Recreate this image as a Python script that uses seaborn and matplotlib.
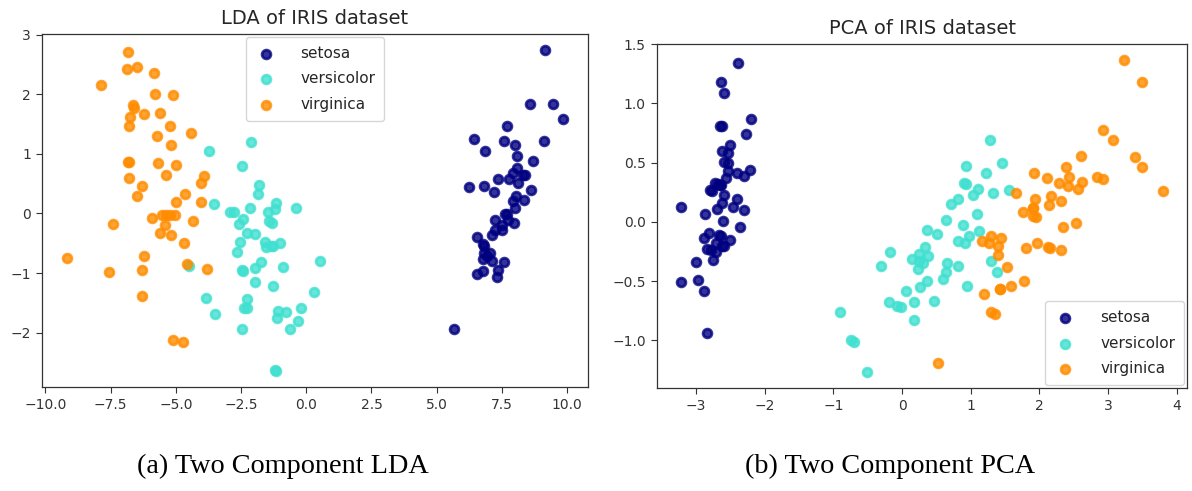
import numpy as np
import pandas as pd
import matplotlib
matplotlib.use("Agg")
import matplotlib.pyplot as plt
import seaborn as sns

# ---------------- data ----------------
species = ["setosa", "versicolor", "virginica"]
colors = ["navy", "turquoise", "darkorange"]

# Two-component LDA projection
lda_setosa_x = [8.06, 7.13, 7.49, 6.81, 8.13, 7.70, 7.21, 7.61, 6.56, 7.34, 8.40, 7.22, 7.33, 7.57, 9.85,
                9.16, 8.58, 7.78, 8.08, 8.02, 7.50, 7.59, 8.68, 6.25, 6.56, 6.77, 6.82, 7.93, 7.99, 6.83,
                6.76, 7.37, 9.13, 9.47, 7.06, 7.96, 8.61, 8.33, 6.93, 7.69, 7.92, 5.66, 7.24, 6.42, 6.86,
                6.78, 8.07, 7.13, 8.30, 7.73]
lda_setosa_y = [0.30, -0.79, -0.27, -0.67, 0.51, 1.46, 0.36, -0.01, -1.02, -0.95, 0.65, -0.11, -1.07, -0.81, 1.59,
                2.74, 1.83, 0.58, 0.97, 1.14, -0.19, 1.21, 0.88, 0.44, -0.39, -0.97, 0.46, 0.21, 0.09, -0.54,
                -0.76, 0.57, 1.22, 1.83, -0.66, -0.16, 0.40, 0.23, -0.71, -0.01, 0.68, -1.93, -0.27, 1.25, 1.05,
                -0.51, 0.76, -0.36, 0.64, -0.11]
lda_versicolor_x = [-1.46, -1.80, -2.42, -2.26, -2.55, -2.43, -2.45, -0.22, -1.75, -1.96, -1.19, -1.86, -1.16,
                    -2.67, -0.38, -1.20, -2.77, -0.78, -3.50, -1.09, -3.72, -1.00, -3.84, -2.26, -1.26, -1.44,
                    -2.46, -3.52, -2.59, 0.52, -1.11, -0.61, -0.90, -4.50, -2.93, -2.10, -2.14, -2.48, -1.33,
                    -1.96, -2.40, -2.29, -1.27, -0.30, -1.96, -1.16, -1.60, -1.54, 0.30, -1.36]
lda_versicolor_y = [0.03, 0.48, -0.09, -1.59, -0.47, -0.97, 0.80, -1.58, -0.82, -0.35, -2.63, 0.32, -2.64,
                    -0.64, 0.09, 0.08, 0.03, -1.66, -1.68, -1.63, 1.04, -0.49, -1.41, -1.43, -0.55, -0.13,
                    -0.94, 0.16, -0.17, -0.79, -1.75, -1.94, -0.90, -0.88, 0.03, 1.19, 0.09, -1.94, -0.16,
                    -1.15, -1.59, -0.33, -1.21, -1.80, -0.91, 0.17, -0.47, -0.57, -1.31, -0.54]
lda_virginica_x = [-6.85, -6.87, -6.47, -5.85, -7.87, -5.80, -5.11, -6.65, -6.59, -6.23, -5.60, -6.74, -6.80,
                   -5.23, -4.42, -5.74, -5.18, -6.83, -6.79, -5.67, -4.99, -6.80, -5.36, -3.92, -4.03, -6.29,
                   -6.49, -4.66, -4.99, -4.05, -5.93, -5.53, -5.39, -5.23, -5.02, -7.42, -4.36, -5.43, -5.62,
                   -5.17, -4.67, -9.18, -6.22, -4.56, -7.56, -6.29, -3.80, -6.29, -5.11, -4.72]
lda_virginica_y = [2.71, 2.42, 2.45, 2.35, 2.15, 2.01, 1.98, 1.82, 1.77, 1.66, 1.68, 1.61, 1.47,
                   1.46, 1.35, 1.30, 1.14, 0.86, 0.87, 0.84, 0.81, 0.60, 0.65, 0.62, 0.51, 0.46,
                   0.30, 0.33, 0.19, 0.19, -0.08, -0.02, -0.02, -0.02, -0.02, -0.17, -0.12, -0.20, -0.33,
                   -0.36, -0.49, -0.74, -0.71, -0.85, -0.98, -0.95, -0.93, -1.39, -2.12, -2.16]

# Two-component PCA projection
pca_setosa_x = [-2.68, -2.71, -2.89, -2.75, -2.73, -2.28, -2.82, -2.63, -2.89, -2.67, -2.51, -2.61, -2.79,
                -3.22, -2.64, -2.39, -2.62, -2.65, -2.20, -2.59, -2.31, -2.54, -3.22, -2.30, -2.36, -2.51,
                -2.47, -2.56, -2.64, -2.63, -2.59, -2.41, -2.65, -2.60, -2.64, -2.87, -2.63, -2.80, -2.98,
                -2.59, -2.77, -2.85, -3.00, -2.41, -2.21, -2.71, -2.54, -2.84, -2.54, -2.70]
pca_setosa_y = [0.32, -0.18, -0.14, -0.32, 0.33, 0.74, -0.09, 0.16, -0.58, -0.11, 0.65, 0.01, -0.24,
                -0.51, 1.18, 1.34, 0.81, 0.31, 0.87, 0.51, 0.39, 0.43, 0.13, 0.10, -0.04, -0.15,
                0.13, 0.37, 0.31, -0.20, -0.20, 0.41, 0.81, 1.09, -0.12, 0.07, 0.60, 0.27, -0.49,
                0.23, 0.26, -0.94, -0.34, 0.19, 0.44, -0.25, 0.50, -0.23, 0.58, 0.11]
pca_versicolor_x = [1.28, 0.93, 1.46, 0.18, 1.09, 0.64, 1.10, -0.75, 1.04, -0.01, -0.51, 0.51, 0.26,
                    0.98, -0.17, 0.93, 0.66, 0.24, 0.94, 0.05, 1.12, 0.36, 1.30, 0.92, 0.71, 0.90,
                    1.33, 1.56, 0.81, -0.31, -0.07, -0.19, 0.14, 1.38, 0.59, 0.81, 1.22, 0.82, 0.25,
                    0.17, 0.46, 0.89, 0.23, -0.70, 0.36, 0.33, 0.38, 0.64, -0.91, 0.30]
pca_versicolor_y = [0.69, 0.32, 0.50, -0.83, 0.07, -0.42, 0.28, -1.00, 0.23, -0.72, -1.27, -0.10, -0.55,
                    -0.12, -0.25, 0.47, -0.35, -0.33, -0.54, -0.58, -0.08, -0.07, -0.33, -0.18, 0.15, 0.33,
                    0.24, 0.27, -0.16, -0.37, -0.71, -0.68, -0.31, -0.42, -0.48, 0.19, 0.41, -0.37, -0.27,
                    -0.68, -0.67, -0.03, -0.40, -1.01, -0.50, -0.21, -0.29, 0.02, -0.76, -0.35]
pca_virginica_x = [2.53, 1.42, 2.62, 1.97, 2.35, 3.40, 0.52, 2.93, 2.32, 2.92, 1.66, 1.80, 2.17,
                   1.35, 1.59, 1.90, 1.95, 3.49, 3.80, 1.30, 2.43, 1.20, 3.50, 1.39, 2.28, 2.61,
                   1.26, 1.29, 2.12, 2.39, 2.84, 3.23, 2.16, 1.44, 1.78, 3.08, 2.14, 1.91, 1.17,
                   2.11, 2.31, 1.92, 1.42, 2.56, 2.42, 1.94, 1.53, 1.76, 1.90, 1.39]
pca_virginica_y = [-0.01, -0.57, 0.34, -0.18, -0.04, 0.55, -1.19, 0.36, -0.24, 0.78, 0.24, -0.22, 0.22,
                   -0.78, -0.54, 0.12, 0.04, 1.18, 0.26, -0.76, 0.38, -0.61, 0.46, -0.20, 0.33, 0.56,
                   -0.18, -0.12, -0.21, 0.46, 0.38, 1.37, -0.22, -0.14, -0.50, 0.69, 0.14, 0.05, -0.16,
                   0.37, 0.18, 0.41, -0.57, 0.28, 0.30, 0.19, -0.38, 0.08, 0.12, -0.28]

lda_x_ticks = [-10.0, -7.5, -5.0, -2.5, 0.0, 2.5, 5.0, 7.5, 10.0]
lda_y_ticks = [-2, -1, 0, 1, 2, 3]
pca_x_ticks = [-3, -2, -1, 0, 1, 2, 3, 4]
pca_y_ticks = [-1.0, -0.5, 0.0, 0.5, 1.0, 1.5]


def frame(prefix):
    parts = []
    for name in species:
        xs = globals()[f"{prefix}_{name}_x"]
        ys = globals()[f"{prefix}_{name}_y"]
        parts.append(pd.DataFrame({"c1": xs, "c2": ys, "species": name}))
    return pd.concat(parts, ignore_index=True)


lda_df = frame("lda")
pca_df = frame("pca")

# ---------------- style ----------------
sns.set_style("ticks")
plt.rcParams.update({
    "font.family": ["DejaVu Sans"],
    "font.size": 10,
    "xtick.labelsize": 10,
    "ytick.labelsize": 10,
    "axes.titlesize": 14,
    "axes.edgecolor": "#333333",
    "axes.linewidth": 0.9,
    "xtick.color": "#333333",
    "ytick.color": "#333333",
    "xtick.major.size": 4.5,
    "ytick.major.size": 4.5,
    "text.color": "#262626",
})

fig = plt.figure(figsize=(11.92, 4.91), dpi=100)
ax_lda = fig.add_axes([0.0352, 0.2118, 0.4581, 0.7190])
ax_pca = fig.add_axes([0.5512, 0.2098, 0.4446, 0.7006])


def draw(ax, df):
    for name, col in zip(species, colors):
        sub = df[df["species"] == name]
        sns.scatterplot(data=sub, x="c1", y="c2", ax=ax, color=col, alpha=0.8,
                        s=40, linewidth=2, edgecolor=col, label=name, legend=False)
    ax.set_xlabel("")
    ax.set_ylabel("")


draw(ax_lda, lda_df)
draw(ax_pca, pca_df)

ax_lda.set_xticks(lda_x_ticks)
ax_lda.set_yticks(lda_y_ticks)
ax_pca.set_xticks(pca_x_ticks)
ax_pca.set_yticks(pca_y_ticks)
ax_lda.margins(0.05)
ax_pca.margins(0.05)

ax_lda.set_title("LDA of IRIS dataset", pad=7.2)
ax_pca.set_title("PCA of IRIS dataset", pad=7.2)

for ax, loc in ((ax_lda, "upper center"), (ax_pca, "lower right")):
    leg = ax.legend(loc=loc, scatterpoints=1, shadow=False, fontsize=11, frameon=True,
                    borderpad=0.58, labelspacing=0.69, handlelength=1.47,
                    handletextpad=1.53, borderaxespad=0.2)
    leg.get_frame().set_edgecolor("#cccccc")

fig.text(283 / 1192, 1 - 466 / 491, "(a) Two Component LDA", family="Liberation Serif",
         fontsize=20.3, ha="center", va="center", color="black")
fig.text(890 / 1192, 1 - 466 / 491, "(b) Two Component PCA", family="Liberation Serif",
         fontsize=20.3, ha="center", va="center", color="black")

fig.savefig("out.png", dpi=100)
